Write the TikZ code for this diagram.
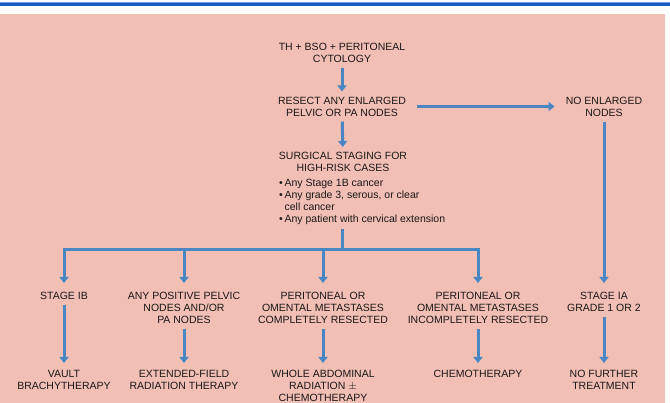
\documentclass[tikz,border=0pt]{standalone}
\usepackage{fontspec}
\setmainfont{Liberation Sans}
\usetikzlibrary{arrows.meta}
\definecolor{bgpink}{HTML}{F2BFB5}
\definecolor{arrblue}{HTML}{4A86C2}
\definecolor{barblue}{HTML}{1F5CC8}
\definecolor{barlight}{HTML}{6E9BE0}
\definecolor{txt}{HTML}{1A1718}
\tikzset{
  lbl/.style={align=center, inner sep=3pt, text=txt, font=\fontsize{10.5}{12.2}\selectfont},
  conn/.style={draw=arrblue, line width=3pt},
  arr/.style={conn, -{Triangle[width=9pt,length=6pt]}},
}
\begin{document}
\begin{tikzpicture}[x=1pt,y=-1pt]
\useasboundingbox (0,0) rectangle (670,403);
\fill[white] (0,0) rectangle (670,403);
\fill[barblue] (0,2) rectangle (670,6.5);
\fill[barlight] (0,2) rectangle (670,3);
\fill[bgpink] (0,14) rectangle (665,403);

\node[lbl] (top) at (342,52.5) {TH + BSO + PERITONEAL\\CYTOLOGY};
\node[lbl] (resect) at (342,106.5) {RESECT ANY ENLARGED\\PELVIC OR PA NODES};
\node[lbl] (noenl) at (604,106.5) {NO ENLARGED\\NODES};
\node[lbl] (stitle) at (343,162) {SURGICAL STAGING FOR\\HIGH-RISK CASES};
\node[lbl, align=left, anchor=north west] (blist) at (276,175.5)
  {\textbullet\,Any Stage 1B cancer\\
   \textbullet\,Any grade 3, serous, or clear\\
   \hphantom{\textbullet\,}cell cancer\\
   \textbullet\,Any patient with cervical extension};
\coordinate (bus) at (342,250);

\node[lbl, anchor=north] (c1) at (64,289) {STAGE IB};
\node[lbl, anchor=north] (c2) at (184,289) {ANY POSITIVE PELVIC\\NODES AND/OR\\PA NODES};
\node[lbl, anchor=north] (c3) at (323,289) {PERITONEAL OR\\OMENTAL METASTASES\\COMPLETELY RESECTED};
\node[lbl, anchor=north] (c4) at (478,289) {PERITONEAL OR\\OMENTAL METASTASES\\INCOMPLETELY RESECTED};
\node[lbl, anchor=north] (c5) at (604,289) {STAGE IA\\GRADE 1 OR 2};

\node[lbl, anchor=north] (d1) at (64,367) {VAULT\\BRACHYTHERAPY};
\node[lbl, anchor=north] (d2) at (184,367) {EXTENDED-FIELD\\RADIATION THERAPY};
\node[lbl, anchor=north] (d3) at (323,367) {WHOLE ABDOMINAL\\RADIATION $\pm$\\CHEMOTHERAPY};
\node[lbl, anchor=north] (d4) at (478,367) {CHEMOTHERAPY};
\node[lbl, anchor=north] (d5) at (604,367) {NO FURTHER\\TREATMENT};

\draw[arr, shorten <=2pt, shorten >=2pt] (top) -- (resect);
\draw[arr, shorten <=2pt, shorten >=2pt] (resect) -- (stitle);
\draw[arr, shorten <=8pt, shorten >=8pt] (resect) -- (noenl);
\draw[arr, shorten <=2pt, shorten >=6pt] (noenl) -- (c5);
\draw[conn, shorten <=1pt] (blist.south -| bus) -- (bus);
\draw[arr, shorten >=6pt] (bus) -| (c1.north);
\draw[arr, shorten >=6pt] (bus) -| (c2.north);
\draw[arr, shorten >=6pt] (bus) -| (c3.north);
\draw[arr, shorten >=6pt] (bus) -| (c4.north);
\foreach \i in {1,...,5} {
  \draw[arr, shorten <=2pt, shorten >=4pt] (c\i.south) -- (d\i.north);
}
\end{tikzpicture}
\end{document}
